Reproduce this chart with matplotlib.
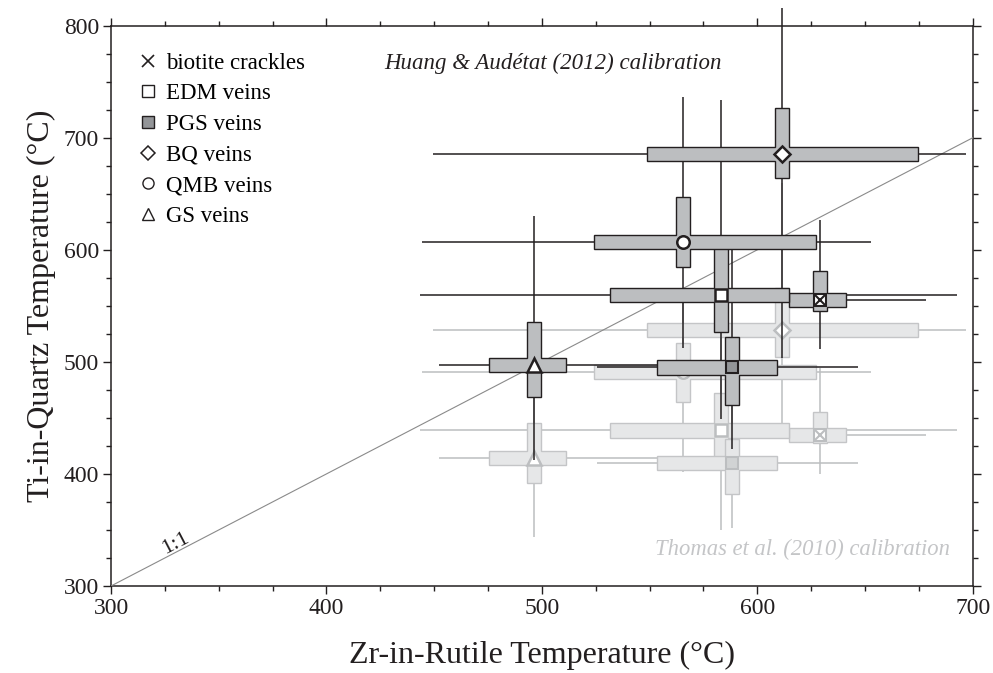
import matplotlib
matplotlib.use("Agg")
import matplotlib.pyplot as plt
from matplotlib.patches import Polygon
from matplotlib.lines import Line2D
from matplotlib.ticker import MultipleLocator

plt.rcParams['font.family'] = ['Liberation Serif', 'DejaVu Serif']

# ---------------- data ----------------
samples = ["biotite crackles", "EDM veins", "PGS veins", "BQ veins", "QMB veins", "GS veins"]

# Zr-in-rutile temperature (shared by both calibrations)
zr_center = [629.0, 583.1, 588.1, 611.3, 565.4, 496.5]
zr_box_lo = [614.6, 531.8, 553.6, 548.7, 524.4, 475.6]
zr_box_hi = [641.2, 614.9, 609.0, 674.8, 627.1, 511.0]
zr_min = [580.0, 443.4, 525.4, 449.3, 444.2, 452.4]
zr_max = [678.1, 692.8, 646.6, 696.7, 652.6, 590.0]

# Ti-in-quartz temperature, Huang & Audetat (2012) calibration
huang_center = [555.0, 559.7, 495.0, 685.5, 606.7, 497.3]
huang_box_lo = [545.7, 526.4, 461.5, 664.4, 585.0, 468.9]
huang_box_hi = [581.4, 603.0, 522.0, 726.3, 647.4, 535.9]
huang_min = [511.2, 448.8, 422.0, 503.2, 512.1, 412.4]
huang_max = [626.6, 733.6, 605.0, 815.8, 736.2, 630.2]

# Ti-in-quartz temperature, Thomas et al. (2010) calibration
thomas_center = [434.7, 438.8, 409.9, 528.2, 490.8, 414.4]
thomas_box_lo = [427.9, 410.0, 381.8, 504.6, 464.5, 391.7]
thomas_box_hi = [455.5, 472.0, 430.9, 566.0, 516.6, 445.2]
thomas_min = [400.0, 350.0, 351.5, 431.0, 402.0, 343.5]
thomas_max = [494.5, 560.0, 500.0, 660.0, 560.0, 480.0]

x_ticks = [300, 400, 500, 600, 700]
y_ticks = [300, 400, 500, 600, 700, 800]

# ---------------- styles ----------------
DARK = '#231f20'
dark = dict(line=DARK, fill='#bcbec0', edge=DARK, mfill='white', medge=DARK, pgs='#939598')
light = dict(line='#bcbec0', fill='#e6e7e8', edge='#c4c5c7', mfill='white', medge='#bcbec0', pgs='#d1d3d4')
markers = ['xs', 's', 'sf', 'D', 'o', '^']
HH = 6.4    # half thickness of horizontal box (y units)
HW = 3.32   # half thickness of vertical box (x units)

fig = plt.figure(figsize=(9.93, 6.73), dpi=100)
ax = fig.add_axes([0.1118, 0.1293, 0.8678, 0.8325])
ax.set_xlim(300, 700)
ax.set_ylim(300, 800)


def cross_poly(xc, yc, x1, x2, y1, y2):
    y1 = min(y1, yc - HH)
    y2 = max(y2, yc + HH)
    x1 = min(x1, xc - HW)
    x2 = max(x2, xc + HW)
    return [(x1, yc - HH), (xc - HW, yc - HH), (xc - HW, y1), (xc + HW, y1),
            (xc + HW, yc - HH), (x2, yc - HH), (x2, yc + HH), (xc + HW, yc + HH),
            (xc + HW, y2), (xc - HW, y2), (xc - HW, yc + HH), (x1, yc + HH)]


def draw_layer(yc_l, ylo_l, yhi_l, ymin_l, ymax_l, st, z):
    n = len(samples)
    for i in range(n):
        ax.plot([zr_min[i], zr_max[i]], [yc_l[i], yc_l[i]], color=st['line'], lw=1.1,
                zorder=z, solid_capstyle='butt')
        ax.plot([zr_center[i], zr_center[i]], [ymin_l[i], ymax_l[i]], color=st['line'], lw=1.1,
                zorder=z, solid_capstyle='butt', clip_on=False)
    for i in range(n):
        poly = Polygon(cross_poly(zr_center[i], yc_l[i], zr_box_lo[i], zr_box_hi[i],
                                  ylo_l[i], yhi_l[i]),
                       closed=True, facecolor=st['fill'], edgecolor=st['edge'], lw=1.0,
                       zorder=z + 1)
        ax.add_patch(poly)
    for i in range(n):
        m = markers[i]
        x, y = zr_center[i], yc_l[i]
        if m == 'xs':
            ax.plot(x, y, marker='s', ms=8, mfc=st['mfill'], mec=st['medge'], mew=1.5,
                    ls='none', zorder=z + 2)
            ax.plot(x, y, marker='x', ms=7, mec=st['medge'], mew=1.5, ls='none', zorder=z + 3)
        elif m == 'sf':
            ax.plot(x, y, marker='s', ms=8, mfc=st['pgs'], mec=st['medge'], mew=1.5,
                    ls='none', zorder=z + 2)
        elif m == 'D':
            ax.plot(x, y, marker='D', ms=8, mfc=st['mfill'], mec=st['medge'], mew=1.8,
                    ls='none', zorder=z + 2)
        elif m == 'o':
            ax.plot(x, y, marker='o', ms=9, mfc=st['mfill'], mec=st['medge'], mew=1.8,
                    ls='none', zorder=z + 2)
        elif m == '^':
            ax.plot(x, y, marker='^', ms=10, mfc=st['mfill'], mec=st['medge'], mew=1.8,
                    ls='none', zorder=z + 2)
        else:
            ax.plot(x, y, marker='s', ms=8, mfc=st['mfill'], mec=st['medge'], mew=1.8,
                    ls='none', zorder=z + 2)


draw_layer(thomas_center, thomas_box_lo, thomas_box_hi, thomas_min, thomas_max, light, 2)
ax.plot([300, 700], [300, 700], color='#8a8a8a', lw=0.8, zorder=6)
draw_layer(huang_center, huang_box_lo, huang_box_hi, huang_min, huang_max, dark, 10)

# texts
ax.text(505, 766, "Huang & Audétat (2012) calibration", style='italic', ha='center',
        va='center', fontsize=16.5, color=DARK, zorder=20)
ax.text(689.5, 333, "Thomas et al. (2010) calibration", style='italic', ha='right',
        va='center', fontsize=16.3, color='#c4c5c7', zorder=20)
ax.text(330, 338, "1:1", rotation=27.5, rotation_mode='anchor', ha='center', va='center',
        fontsize=16, color=DARK, zorder=20)

# legend
handles = [
    Line2D([], [], marker='x', ls='none', ms=9, mec=DARK, mew=1.2),
    Line2D([], [], marker='s', ls='none', ms=8, mfc='white', mec=DARK, mew=1.0),
    Line2D([], [], marker='s', ls='none', ms=8, mfc='#939598', mec=DARK, mew=1.0),
    Line2D([], [], marker='D', ls='none', ms=7, mfc='white', mec=DARK, mew=1.1),
    Line2D([], [], marker='o', ls='none', ms=8, mfc='white', mec=DARK, mew=1.0),
    Line2D([], [], marker='^', ls='none', ms=9, mfc='white', mec=DARK, mew=1.0),
]
leg = ax.legend(handles, samples, loc='upper left', bbox_to_anchor=(0.032, 0.952),
                frameon=False, fontsize=16.5, handlelength=0.8, handletextpad=0.4,
                labelspacing=0.42, borderaxespad=0.0, borderpad=0.0)
leg.set_zorder(30)

# axes styling
ax.xaxis.set_major_locator(MultipleLocator(100))
ax.xaxis.set_minor_locator(MultipleLocator(25))
ax.yaxis.set_major_locator(MultipleLocator(100))
ax.yaxis.set_minor_locator(MultipleLocator(25))
ax.set_xticks(x_ticks)
ax.set_yticks(y_ticks)
ax.tick_params(which='both', direction='out', top=True, right=True, color=DARK,
               labelsize=17, labelcolor=DARK)
ax.tick_params(which='major', length=5.5, width=1.0, pad=3)
ax.tick_params(which='minor', length=3.5, width=1.0)
for s in ax.spines.values():
    s.set_linewidth(1.1)
    s.set_color(DARK)

ax.set_xlabel("Zr-in-Rutile Temperature (°C)", fontsize=23, color=DARK, labelpad=16)
ax.set_ylabel("Ti-in-Quartz Temperature (°C)", fontsize=23, color=DARK, labelpad=6)

fig.savefig("out.png", dpi=100)
